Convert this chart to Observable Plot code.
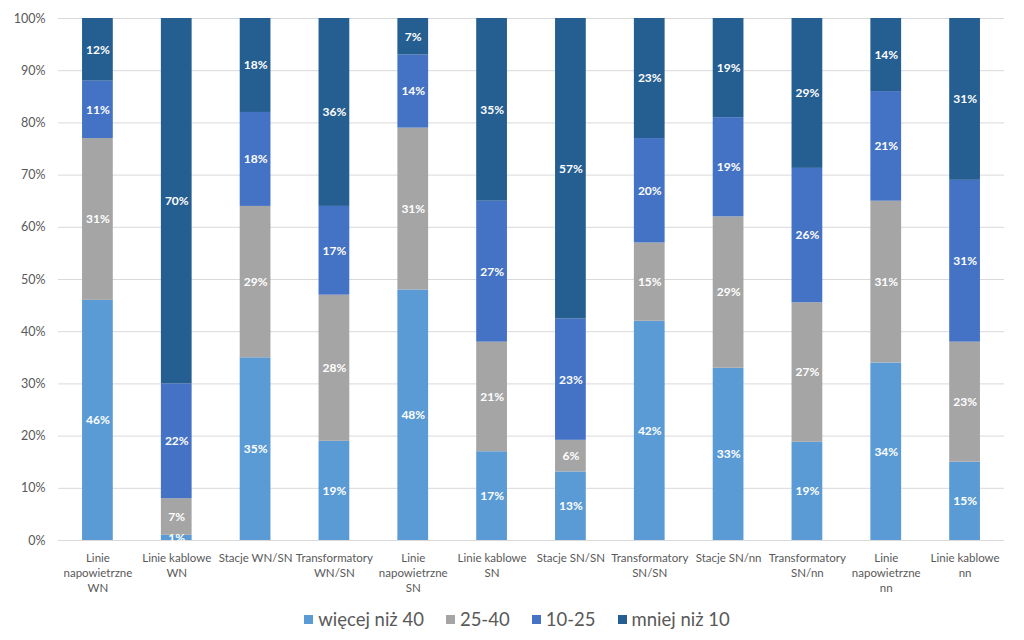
<!DOCTYPE html>
<html>
<head>
<meta charset="utf-8">
<script src="https://cdn.jsdelivr.net/npm/d3@7"></script>
<script src="https://cdn.jsdelivr.net/npm/@observablehq/plot@0.6"></script>
<style>
  body { margin: 0; background: #fff; font-family: Lato, "Open Sans", sans-serif; }
  #legend { display: flex; justify-content: center; align-items: center; gap: 22px; height: 38px; font-size: 18.5px; color: #595959; padding-left: 10px; }
  #legend .item { display: flex; align-items: center; gap: 5px; }
  #legend .sw { width: 9px; height: 9px; display: inline-block; }
</style>
</head>
<body>
<div id="chart"></div>
<div id="legend"></div>
<script>
const categories = [
  "Linie napowietrzne WN", "Linie kablowe WN", "Stacje WN/SN", "Transformatory WN/SN",
  "Linie napowietrzne SN", "Linie kablowe SN", "Stacje SN/SN", "Transformatory SN/SN",
  "Stacje SN/nn", "Transformatory SN/nn", "Linie napowietrzne nn", "Linie kablowe nn"
];
const tickLabels = [
  "Linie\nnapowietrzne\nWN", "Linie kablowe\nWN", "Stacje WN/SN", "Transformatory\nWN/SN",
  "Linie\nnapowietrzne\nSN", "Linie kablowe\nSN", "Stacje SN/SN", "Transformatory\nSN/SN",
  "Stacje SN/nn", "Transformatory\nSN/nn", "Linie\nnapowietrzne\nnn", "Linie kablowe\nnn"
];
const series = ["więcej niż 40", "25-40", "10-25", "mniej niż 10"];
const colors = ["#5B9BD5", "#A5A5A5", "#4472C4", "#255E91"];

const more40 = [46, 1, 35, 19, 48, 17, 13, 42, 33, 19, 34, 15];
const r25_40 = [31, 7, 29, 28, 31, 21, 6, 15, 29, 27, 31, 23];
const r10_25 = [11, 22, 18, 17, 14, 27, 23, 20, 19, 26, 21, 31];
const less10 = [12, 70, 18, 36, 7, 35, 57, 23, 19, 29, 14, 31];

const seriesValues = [more40, r25_40, r10_25, less10];
const data = categories.flatMap((c, i) =>
  series.map((s, j) => ({ cat: c, series: s, value: seriesValues[j][i] }))
);

const chart = Plot.plot({
  width: 1024,
  height: 600,
  marginTop: 18,
  marginBottom: 60,
  marginLeft: 58,
  marginRight: 20,
  style: { fontFamily: "Lato, 'Open Sans', sans-serif", background: "#fff" },
  x: { domain: categories, paddingInner: 0.61, paddingOuter: 0.305, round: false, label: null },
  y: { domain: [0, 1], label: null },
  color: { domain: series, range: colors },
  marks: [
    Plot.gridY({ ticks: d3.range(0, 1.0001, 0.1), stroke: "#d9d9d9", strokeOpacity: 1 }),
    Plot.barY(data, Plot.stackY({ x: "cat", y: "value", fill: "series", offset: "normalize", order: series })),
    Plot.text(data, Plot.stackY({
      x: "cat", y: "value", z: "series", offset: "normalize", order: series,
      text: d => d.value + "%", fill: "white", fontSize: 12, fontWeight: 700
    })),
    Plot.axisY({
      ticks: d3.range(0, 1.0001, 0.1), tickFormat: d3.format(".0%"),
      tickSize: 0, tickPadding: 13, fontSize: 12.5, color: "#595959", label: null
    }),
    Plot.axisX({
      tickSize: 0, tickPadding: 11, fontSize: 11.5, color: "#595959", label: null,
      lineHeight: 1.3,
      tickFormat: d => tickLabels[categories.indexOf(d)]
    })
  ]
});
document.getElementById("chart").appendChild(chart);

const legend = document.getElementById("legend");
series.forEach((s, j) => {
  const item = document.createElement("div");
  item.className = "item";
  const sw = document.createElement("span");
  sw.className = "sw";
  sw.style.background = colors[j];
  const label = document.createElement("span");
  label.textContent = s;
  item.appendChild(sw);
  item.appendChild(label);
  legend.appendChild(item);
});
</script>
</body>
</html>
